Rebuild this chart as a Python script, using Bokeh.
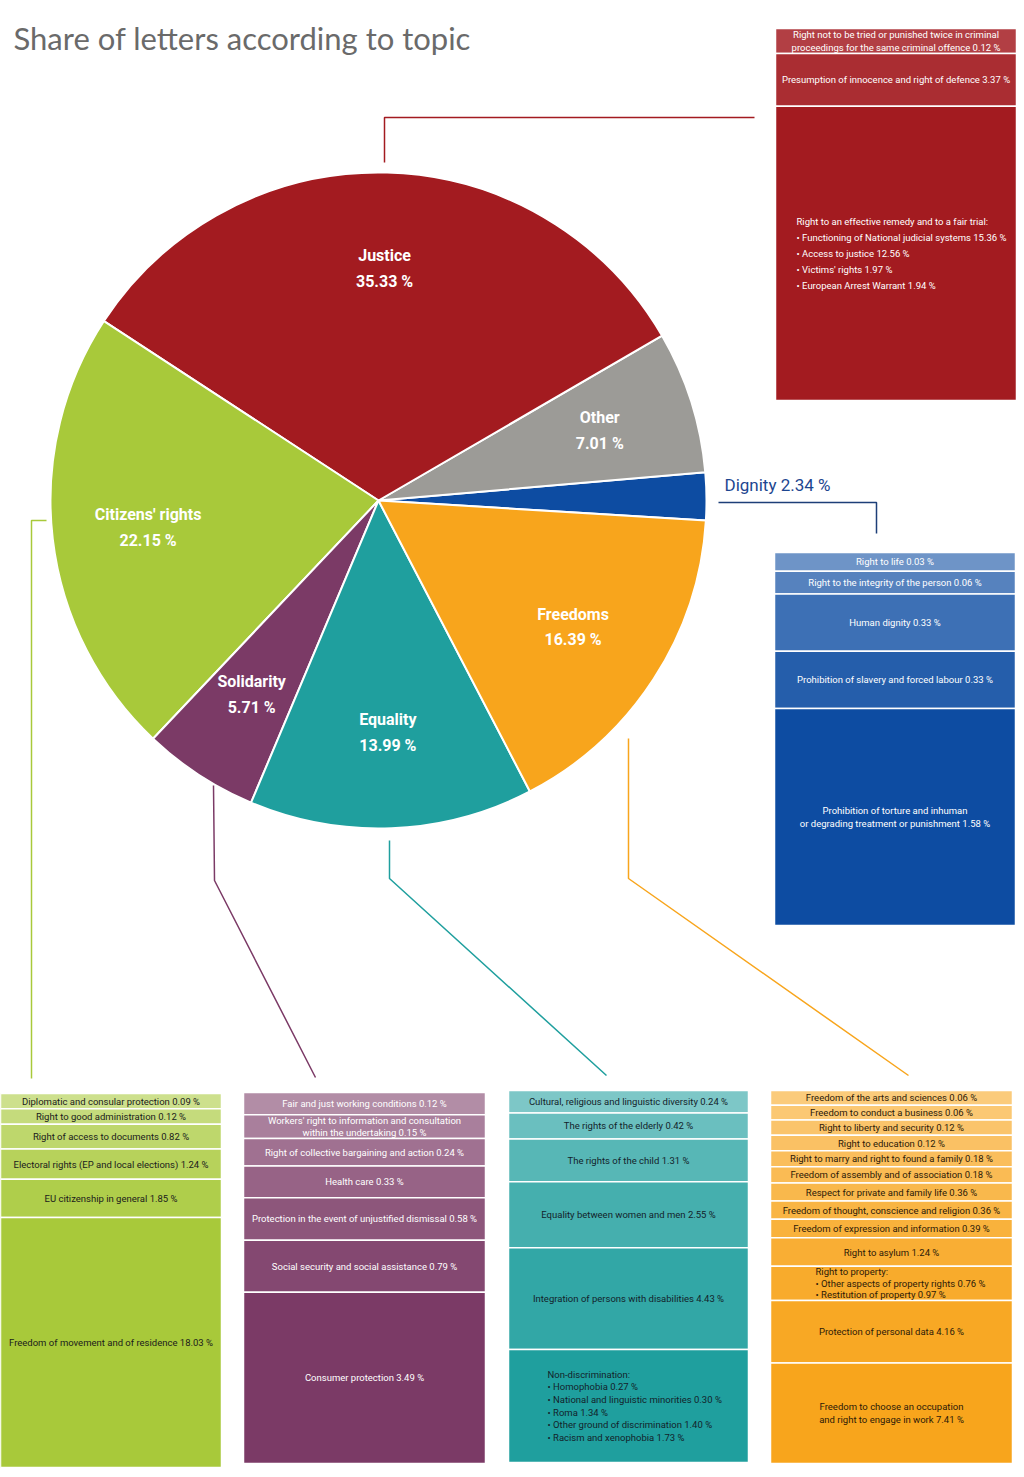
import math
from bokeh.plotting import figure
from bokeh.models import Range1d, ColumnDataSource
from bokeh.core.properties import value
from bokeh.embed import file_html
from bokeh.resources import INLINE

W, H = 1024, 1477

# ---------------- data ----------------
topics = ["Dignity", "Other", "Justice", "Citizens' rights", "Solidarity", "Equality", "Freedoms"]
topic_shares = [2.34, 7.01, 35.33, 22.15, 5.71, 13.99, 16.39]

justice_labels = ["Right not to be tried or punished twice in criminal\nproceedings for the same criminal offence",
                  "Presumption of innocence and right of defence"]
justice_values = [0.12, 3.37]
fair_trial_title = "Right to an effective remedy and to a fair trial:"
fair_trial_labels = ["Functioning of National judicial systems", "Access to justice",
                     "Victims' rights", "European Arrest Warrant"]
fair_trial_values = [15.36, 12.56, 1.97, 1.94]

dignity_labels = ["Right to life", "Right to the integrity of the person", "Human dignity",
                  "Prohibition of slavery and forced labour",
                  "Prohibition of torture and inhuman\nor degrading treatment or punishment"]
dignity_values = [0.03, 0.06, 0.33, 0.33, 1.58]

citizens_labels = ["Diplomatic and consular protection", "Right to good administration",
                   "Right of access to documents", "Electoral rights (EP and local elections)",
                   "EU citizenship in general", "Freedom of movement and of residence"]
citizens_values = [0.09, 0.12, 0.82, 1.24, 1.85, 18.03]

solidarity_labels = ["Fair and just working conditions",
                     "Workers' right to information and consultation\nwithin the undertaking",
                     "Right of collective bargaining and action", "Health care",
                     "Protection in the event of unjustified dismissal",
                     "Social security and social assistance", "Consumer protection"]
solidarity_values = [0.12, 0.15, 0.24, 0.33, 0.58, 0.79, 3.49]

equality_labels = ["Cultural, religious and linguistic diversity", "The rights of the elderly",
                   "The rights of the child", "Equality between women and men",
                   "Integration of persons with disabilities"]
equality_values = [0.24, 0.42, 1.31, 2.55, 4.43]
nondiscrimination_title = "Non-discrimination:"
nondiscrimination_labels = ["Homophobia", "National and linguistic minorities", "Roma",
                            "Other ground of discrimination", "Racism and xenophobia"]
nondiscrimination_values = [0.27, 0.30, 1.34, 1.40, 1.73]

freedoms_labels = ["Freedom of the arts and sciences", "Freedom to conduct a business",
                   "Right to liberty and security", "Right to education",
                   "Right to marry and right to found a family",
                   "Freedom of assembly and of association", "Respect for private and family life",
                   "Freedom of thought, conscience and religion",
                   "Freedom of expression and information", "Right to asylum"]
freedoms_values = [0.06, 0.06, 0.12, 0.12, 0.18, 0.18, 0.36, 0.36, 0.39, 1.24]
property_title = "Right to property:"
property_labels = ["Other aspects of property rights", "Restitution of property"]
property_values = [0.76, 0.97]
freedoms_tail_labels = ["Protection of personal data",
                        "Freedom to choose an occupation\nand right to engage in work"]
freedoms_tail_values = [4.16, 7.41]

# ---------------- styles / layout ----------------
FONT = "Roboto"
TITLE_FONT = "Lato"
topic_colors = {"Dignity": "#0d4ca2", "Other": "#9c9b97", "Justice": "#a31b20",
                "Citizens' rights": "#a8c93a", "Solidarity": "#7b3a66",
                "Equality": "#1f9f9e", "Freedoms": "#f8a51c"}

CX, CY, R = 378, 500, 328          # pie centre / radius (page pixels)
START_DEG = -3.5                   # where the first wedge (Dignity) begins
LABEL_R = 232
REMAINDER_TOPIC = "Justice"        # shares sum to >100 %; this slice takes what is left

box_layout = {
    "Justice": dict(x0=775, x1=1016, y0=28, y1=400, min_h=24, tint=0.16, fg="#ffffff", indent=21, fs=9.5, lfs=9.5, lh=1.45),
    "Dignity": dict(x0=774, x1=1015, y0=552, y1=925, min_h=15, tint=0.40, fg="#ffffff", indent=20, fs=9.5, lfs=9.5, lh=1.2),
    "Citizens' rights": dict(x0=0, x1=221, y0=1093, y1=1467, min_h=14, tint=0.42, fg="#1b1b1b", indent=20, fs=9.5, lfs=9.5, lh=1.2),
    "Solidarity": dict(x0=243, x1=485, y0=1092, y1=1463, min_h=17, tint=0.42, fg="#ffffff", indent=20, fs=9.5, lfs=9.5, lh=1.2),
    "Equality": dict(x0=508, x1=748, y0=1090, y1=1462, min_h=18, tint=0.42, fg="#13232b", indent=39, fs=9.5, lfs=9.5, lh=1.15),
    "Freedoms": dict(x0=770, x1=1012, y0=1090, y1=1463, min_h=14, tint=0.42, fg="#2d1a08", indent=45, fs=9.5, lfs=9.5, lh=1.05),
}

connectors = {
    "Justice": [(384, 162), (384, 117), (754, 117)],
    "Dignity": [(718, 502), (876, 502), (876, 533)],
    "Freedoms": [(628, 738), (628, 878), (908, 1075)],
    "Equality": [(389, 840), (389, 878), (606, 1075)],
    "Solidarity": [(213, 785), (214, 880), (315, 1077)],
    "Citizens' rights": [(46, 520), (31, 520), (31, 1078)],
}


def Y(py):
    return H - py


def mix(hexc, t):
    r, g, b = int(hexc[1:3], 16), int(hexc[3:5], 16), int(hexc[5:7], 16)
    r = round(r + (255 - r) * t)
    g = round(g + (255 - g) * t)
    b = round(b + (255 - b) * t)
    return "#%02x%02x%02x" % (r, g, b)


def pct(v):
    return f"{v:.2f} %"


def simple_rows(labels, values):
    return [("simple", l, v) for l, v in zip(labels, values)]


def group_row(title, labels, values):
    return ("group", title, list(zip(labels, values)), sum(values))


box_rows = {
    "Justice": simple_rows(justice_labels, justice_values)
               + [group_row(fair_trial_title, fair_trial_labels, fair_trial_values)],
    "Dignity": simple_rows(dignity_labels, dignity_values),
    "Citizens' rights": simple_rows(citizens_labels, citizens_values),
    "Solidarity": simple_rows(solidarity_labels, solidarity_values),
    "Equality": simple_rows(equality_labels, equality_values)
                + [group_row(nondiscrimination_title, nondiscrimination_labels, nondiscrimination_values)],
    "Freedoms": simple_rows(freedoms_labels, freedoms_values)
                + [group_row(property_title, property_labels, property_values)]
                + simple_rows(freedoms_tail_labels, freedoms_tail_values),
}

# ---------------- figure ----------------
p = figure(width=W, height=H, x_range=Range1d(0, W), y_range=Range1d(0, H),
           output_backend="svg", toolbar_location=None, min_border=0,
           background_fill_color="white", border_fill_color="white")
p.axis.visible = False
p.grid.visible = False
p.outline_line_color = None

# title
p.text(x=[13], y=[Y(37)], text=["Share of letters according to topic"],
       text_font=value(TITLE_FONT), text_font_size="31px", text_color="#6a6a6a",
       text_baseline="middle", text_align="left")

# pie: every slice at share/100 of the circle, the remainder slice closes the circle
angles = {t: s / 100 * 2 * math.pi for t, s in zip(topics, topic_shares)}
angles[REMAINDER_TOPIC] = 2 * math.pi - sum(v for k, v in angles.items() if k != REMAINDER_TOPIC)
starts, ends = [], []
a = math.radians(START_DEG)
for t in topics:
    starts.append(a)
    a += angles[t]
    ends.append(a)
pie_src = ColumnDataSource(dict(topic=topics, start=starts, end=ends,
                                color=[topic_colors[t] for t in topics]))
p.wedge(x=CX, y=Y(CY), radius=R, start_angle="start", end_angle="end",
        fill_color="color", line_color="white", line_width=2, source=pie_src)

lab_x, lab_y, lab_t = [], [], []
for t, s, st, en in zip(topics, topic_shares, starts, ends):
    if t == "Dignity":
        continue
    mid = (st + en) / 2
    lab_x.append(CX + LABEL_R * math.cos(mid))
    lab_y.append(Y(CY) + LABEL_R * math.sin(mid))
    lab_t.append(f"{t}\n{s:.2f} %")
p.text(x=lab_x, y=lab_y, text=lab_t, text_font=value(FONT), text_font_size="16px",
       text_font_style="bold", text_color="white", text_align="center",
       text_baseline="middle", text_line_height=1.35)

# dignity outside label
p.text(x=[724], y=[Y(484)], text=[f"Dignity {topic_shares[0]:.2f} %"], text_font=value(FONT),
       text_font_size="17px", text_color="#1d4690", text_align="left", text_baseline="middle")

# connectors
for t, pts in connectors.items():
    col = "#1d3f78" if t == "Dignity" else topic_colors[t]
    p.line(x=[q[0] for q in pts], y=[Y(q[1]) for q in pts], line_color=col, line_width=1.5)

# boxes
for t, rows in box_rows.items():
    L = box_layout[t]
    base = topic_colors[t]
    n = len(rows)
    vals = [r[2] if r[0] == "simple" else r[3] for r in rows]
    tot_h = L["y1"] - L["y0"]
    per = (tot_h - n * L["min_h"]) / sum(vals)
    heights = [L["min_h"] + per * v for v in vals]
    tops, bottoms, cols = [], [], []
    y = L["y0"]
    cx, cy, ct = [], [], []
    gx, gy, gt = [], [], []
    for i, (r, h) in enumerate(zip(rows, heights)):
        tint = L["tint"] * (1 - i / (n - 1))
        tops.append(Y(y))
        bottoms.append(Y(y + h))
        cols.append(mix(base, tint))
        mid = y + h / 2
        if r[0] == "simple":
            cx.append((L["x0"] + L["x1"]) / 2)
            cy.append(Y(mid))
            ct.append(f"{r[1]} {pct(r[2])}")
        else:
            lines = [r[1]] + [f"• {l} {pct(v)}" for l, v in r[2]]
            gx.append(L["x0"] + L["indent"])
            gy.append(Y(mid))
            gt.append("\n".join(lines))
        y += h
    p.quad(left=L["x0"], right=L["x1"], top=tops, bottom=bottoms, fill_color=cols,
           line_color="white", line_width=1.5)
    p.text(x=cx, y=cy, text=ct, text_font=value(FONT), text_font_size=f"{L['fs']}px",
           text_color=L["fg"], text_align="center", text_baseline="middle", text_line_height=1.15)
    if gt:
        p.text(x=gx, y=gy, text=gt, text_font=value(FONT), text_font_size=f"{L['lfs']}px",
               text_color=L["fg"], text_align="left", text_baseline="middle", text_line_height=L["lh"])

open("out.html", "w").write(file_html(p, INLINE))
